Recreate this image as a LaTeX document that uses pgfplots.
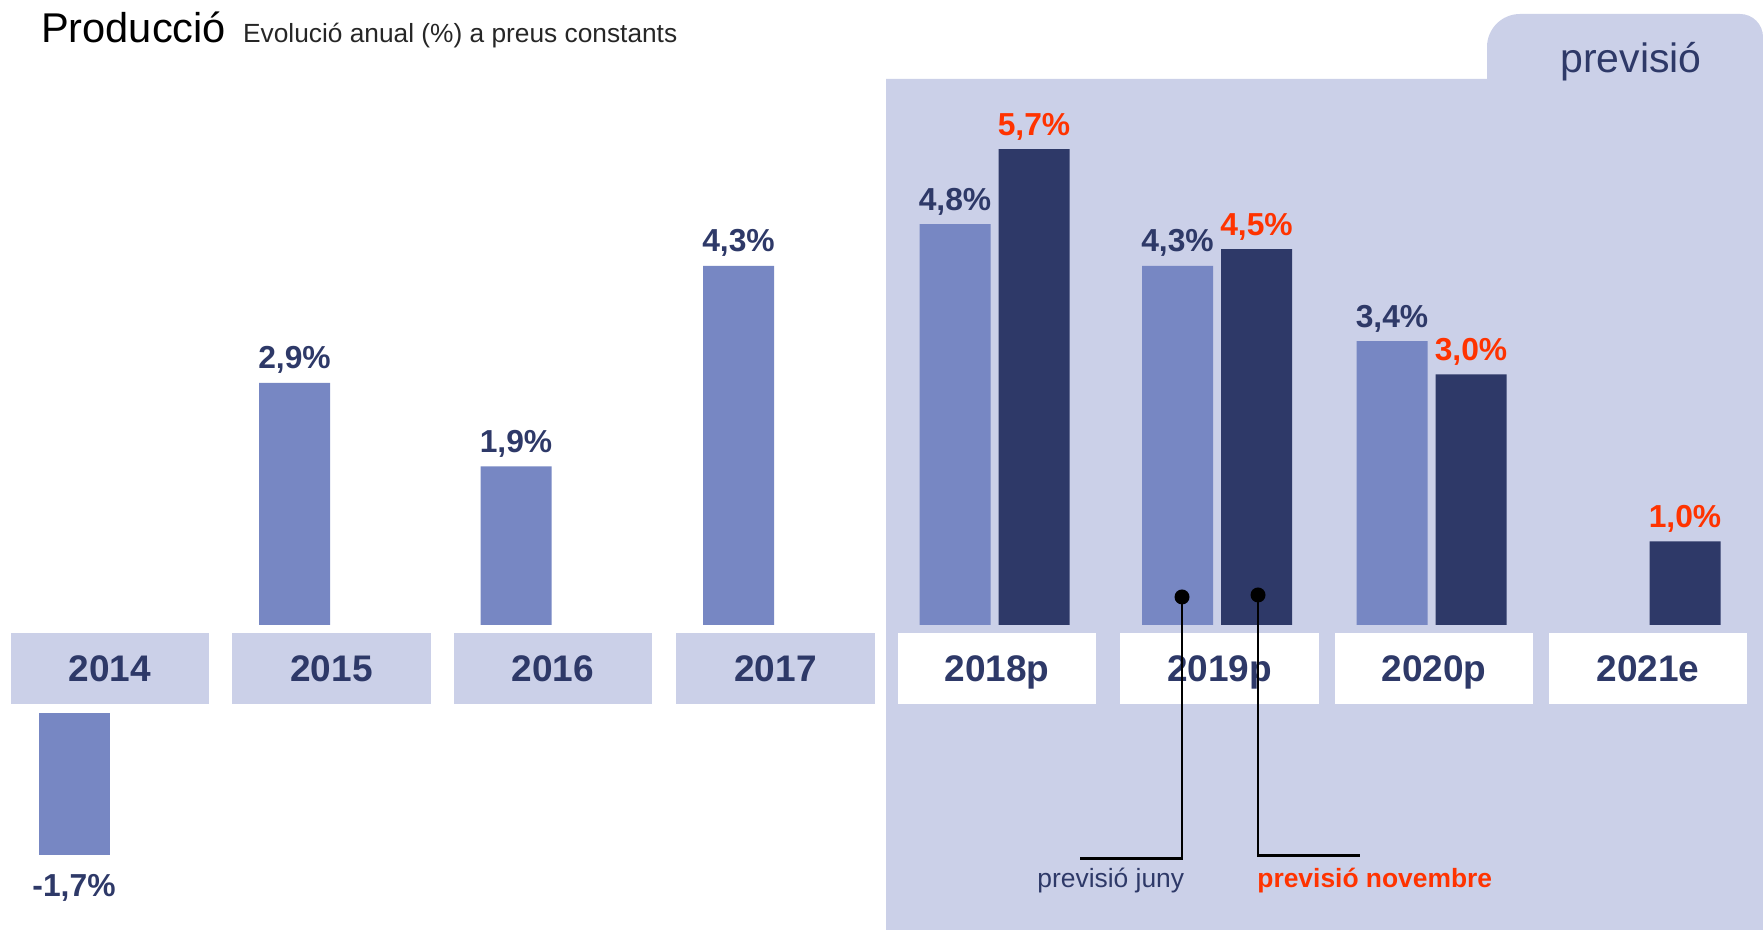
\documentclass[border=0pt]{standalone}
\usepackage{fontspec}
\setmainfont{Liberation Sans}
\usepackage{pgfplots}
\pgfplotsset{compat=1.18}
\usepackage{pgfplotstable}
\definecolor{navy}{HTML}{2E3968}
\definecolor{lightbar}{HTML}{7787C3}
\definecolor{panel}{HTML}{CBD0E8}
\definecolor{redlab}{HTML}{FF3300}
\definecolor{subgray}{HTML}{262626}

% x = category position (px), y = annual change (%)
\pgfplotstableread{
x y
110 -1.7
}\histneg
\pgfplotstableread{
x y
331.5 2.9
553 1.9
775.5 4.3
}\histpos
\pgfplotstableread{
x y
997 4.8
1219.5 4.3
1434 3.4
}\juny
\pgfplotstableread{
x y
997 5.7
1219.5 4.5
1434 3.0
1648 1.0
}\novembre

\begin{document}
\begin{tikzpicture}
\path[use as bounding box] (0pt,0pt) rectangle (881.5pt,465pt);
\begin{scope}[x=0.5pt,y=0.5pt]
  % forecast panel with tab
  \fill[panel] (886,0) -- (886,851) -- (1487,851) -- (1487,883)
     arc[start angle=180,end angle=90,radius=33] -- (1740,916)
     arc[start angle=90,end angle=0,radius=23] -- (1763,0) -- cycle;
  \node[anchor=base, inner sep=0pt, text=navy, font=\fontsize{20.5}{24}\selectfont] at (1631,857.3) {previsió};
  % title
  \node[anchor=base west, inner sep=0pt, font=\fontsize{20.8}{24}\selectfont] at (40.7,887.7) {Producció};
  \node[anchor=base west, inner sep=0pt, text=subgray, font=\fontsize{13.15}{16}\selectfont] at (242.7,887.7) {Evolució anual (\%) a preus constants};
  % category boxes
  \foreach \a/\b in {11/209,232/431,454/652,676/875}
    \fill[panel] (\a,226) rectangle (\b,297);
  \foreach \a/\b in {898/1096,1120/1319,1335/1533,1549/1747}
    \fill[white] (\a,226) rectangle (\b,297);
\end{scope}

\begin{axis}[
  at={(0pt,152.5pt)}, anchor=south west,
  scale only axis, x=0.5pt, y=41.75pt,
  xmin=0, xmax=1763, ymin=0, ymax=7.3,
  axis line style={draw=none}, tick style={draw=none}, ytick=\empty,
  xtick={110,331.5,553,775.5,997,1219.5,1434,1648},
  xticklabels={2014,2015,2016,2017,2018p,2019p,2020p,2021e},
  xticklabel style={font=\fontsize{18.5}{22}\selectfont\bfseries, text=navy, anchor=base, inner sep=0pt, yshift=-24.2pt},
  clip=false,
  ybar, bar width=35.5pt,
  nodes near coords={\pgfmathprintnumber[fixed,fixed zerofill,precision=1,use comma,assume math mode=true]{\pgfplotspointmeta}\%},
  every node near coord/.append style={font=\fontsize{15.9}{18}\selectfont\bfseries, anchor=base, inner sep=0pt, yshift=7pt},
]
\addplot[fill=lightbar, draw=none, bar shift=-18.5pt, every node near coord/.append style={text=navy}] table[x=x,y=y] {\histpos};
\addplot[fill=lightbar, draw=none, bar shift=-21pt, every node near coord/.append style={text=navy}] table[x=x,y=y] {\juny};
\addplot[fill=navy, draw=none, bar shift=18.5pt, every node near coord/.append style={text=redlab}] table[x=x,y=y] {\novembre};
\end{axis}

\begin{axis}[
  at={(0pt,108.5pt)}, anchor=north west,
  scale only axis, x=0.5pt, y=41.75pt,
  xmin=0, xmax=1763, ymin=-2.6, ymax=0,
  hide axis, clip=false,
  ybar, bar width=35.5pt,
  nodes near coords={\pgfmathprintnumber[fixed,fixed zerofill,precision=1,use comma,assume math mode=true]{\pgfplotspointmeta}\%},
  every node near coord/.append style={font=\fontsize{15.9}{18}\selectfont\bfseries, text=navy, anchor=base, inner sep=0pt, yshift=-20.65pt},
]
\addplot[fill=lightbar, draw=none, bar shift=-18pt] table[x=x,y=y] {\histneg};
\end{axis}

\begin{scope}[x=0.5pt,y=0.5pt]
  % annotation lines
  \draw[line width=1.25pt] (1182,333) -- (1182,71.7) -- (1080,71.7);
  \fill (1182,333) circle[radius=7.5];
  \draw[line width=1.25pt] (1258,335) -- (1258,74.3) -- (1360,74.3);
  \fill (1258,335) circle[radius=7.5];
  \node[anchor=base west, inner sep=0pt, text=navy, font=\fontsize{13.2}{16}\selectfont] at (1037,42) {previsió juny};
  \node[anchor=base west, inner sep=0pt, text=redlab, font=\fontsize{13.2}{16}\selectfont\bfseries] at (1257,42) {previsió novembre};
\end{scope}
\end{tikzpicture}
\end{document}
